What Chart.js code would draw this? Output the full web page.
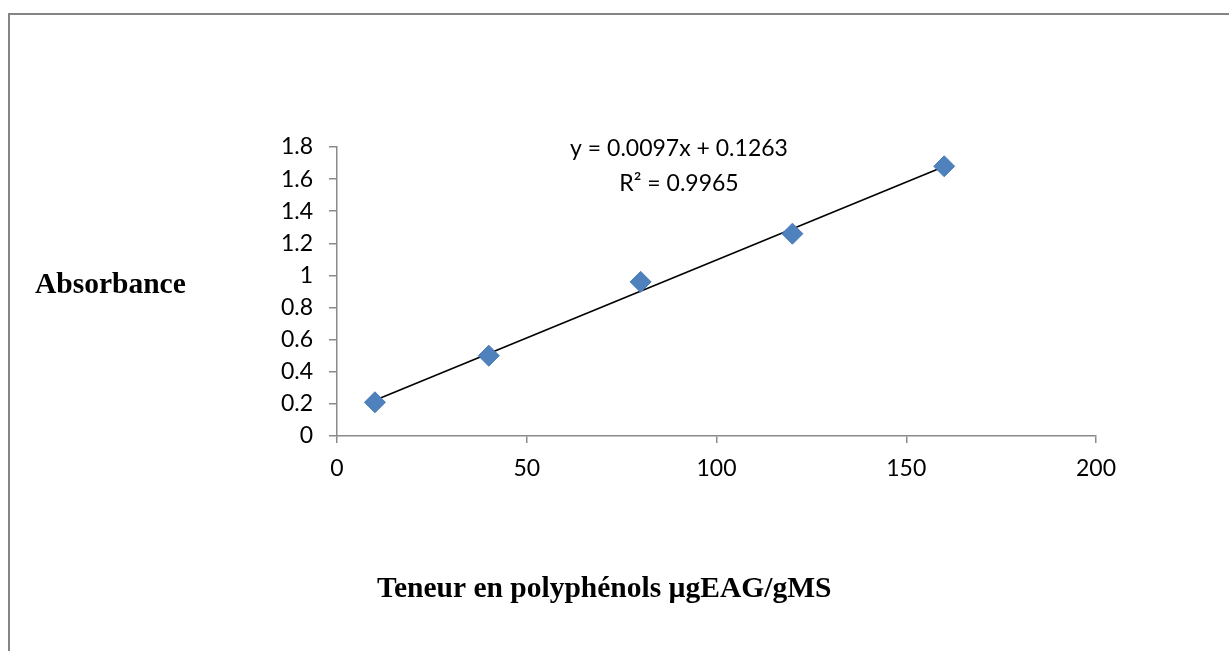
<!DOCTYPE html>
<html>
<head>
<meta charset="utf-8">
<script src="https://cdn.jsdelivr.net/npm/chart.js@4/dist/chart.umd.min.js"></script>
<style>
    html, body { margin: 0; padding: 0; background: #fff; }
    #wrap { position: relative; width: 1229px; height: 651px; }
</style>
</head>
<body>
<div id="wrap"><canvas id="calChart"></canvas></div>
<script>
// Calibration points
const concentrations = [10, 40, 80, 120, 160];
const absorbances = [0.21, 0.50, 0.96, 1.26, 1.68];

// Linear trendline endpoints (y = 0.0097x + 0.1263)
const trendX = [10, 160];
const trendY = [0.2233, 1.6783];

const xTicks = [0, 50, 100, 150, 200];
const yTicks = [0, 0.2, 0.4, 0.6, 0.8, 1, 1.2, 1.4, 1.6, 1.8];
const yTickLabels = ['0', '0.2', '0.4', '0.6', '0.8', '1', '1.2', '1.4', '1.6', '1.8'];

const equationText = 'y = 0.0097x + 0.1263';
const r2Text = 'R\u00b2 = 0.9965';
const yTitle = 'Absorbance';
const xTitle = 'Teneur en polyph\u00e9nols \u00b5gEAG/gMS';

const axisColor = '#8a8a8a';
const tickFont = { family: 'Lato, "Noto Sans", sans-serif', size: 23 };

// frame, axis titles and trendline labels
const decorations = {
    id: 'decorations',
    beforeDraw(chart) {
        const c = chart.ctx;
        c.save();
        c.strokeStyle = '#858585';
        c.lineWidth = 2;
        c.beginPath();
        c.moveTo(9, 651);
        c.lineTo(9, 14);
        c.lineTo(1229, 14);
        c.stroke();
        c.restore();
    },
    afterDraw(chart) {
        const c = chart.ctx;
        c.save();
        c.fillStyle = '#000';
        c.textBaseline = 'middle';
        c.textAlign = 'left';
        c.font = 'bold 29.5px "Liberation Serif", "Times New Roman", serif';
        c.fillText(yTitle, 35, 285);
        c.fillText(xTitle, 377, 589);
        c.textAlign = 'center';
        c.font = '23px Lato, "Noto Sans", sans-serif';
        c.fillText(equationText, 679, 149);
        c.fillText(r2Text, 679, 184);
        c.restore();
    }
};

const ctx = document.getElementById('calChart').getContext('2d');

new Chart(ctx, {
    type: 'scatter',
    data: {
        datasets: [
            {
                type: 'line',
                data: trendX.map((x, i) => ({ x: x, y: trendY[i] })),
                borderColor: '#000',
                borderWidth: 1.6,
                pointRadius: 0,
                fill: false,
                order: 2
            },
            {
                data: concentrations.map((x, i) => ({ x: x, y: absorbances[i] })),
                pointStyle: 'rectRot',
                pointRadius: 10.5,
                pointHoverRadius: 10.5,
                backgroundColor: '#4f81bd',
                borderColor: '#4a7cb8',
                borderWidth: 1,
                order: 1
            }
        ]
    },
    options: {
        responsive: true,
        maintainAspectRatio: false,
        animation: false,
        layout: { padding: { left: 0, top: 147, right: 133, bottom: 0 } },
        plugins: {
            legend: { display: false },
            tooltip: { enabled: false }
        },
        scales: {
            x: {
                type: 'linear',
                min: 0,
                max: 200,
                afterBuildTicks: (scale) => { scale.ticks = xTicks.map(v => ({ value: v })); },
                afterFit: (scale) => { scale.height = 651 - 436; },
                grid: { drawOnChartArea: false, tickLength: 7, color: axisColor, lineWidth: 1.5 },
                border: { color: axisColor, width: 1.5 },
                ticks: { color: '#000', font: tickFont, padding: 12, maxRotation: 0 }
            },
            y: {
                type: 'linear',
                min: 0,
                max: 1.8,
                afterBuildTicks: (scale) => { scale.ticks = yTicks.map(v => ({ value: v })); },
                afterFit: (scale) => { scale.width = 337; },
                grid: { drawOnChartArea: false, tickLength: 8, color: axisColor, lineWidth: 1.5 },
                border: { color: axisColor, width: 1.5 },
                ticks: {
                    color: '#000',
                    font: tickFont,
                    padding: 16,
                    callback: (value) => {
                        const i = yTicks.findIndex(t => Math.abs(t - value) < 1e-9);
                        return i >= 0 ? yTickLabels[i] : '';
                    }
                }
            }
        }
    },
    plugins: [decorations]
});
</script>
</body>
</html>
